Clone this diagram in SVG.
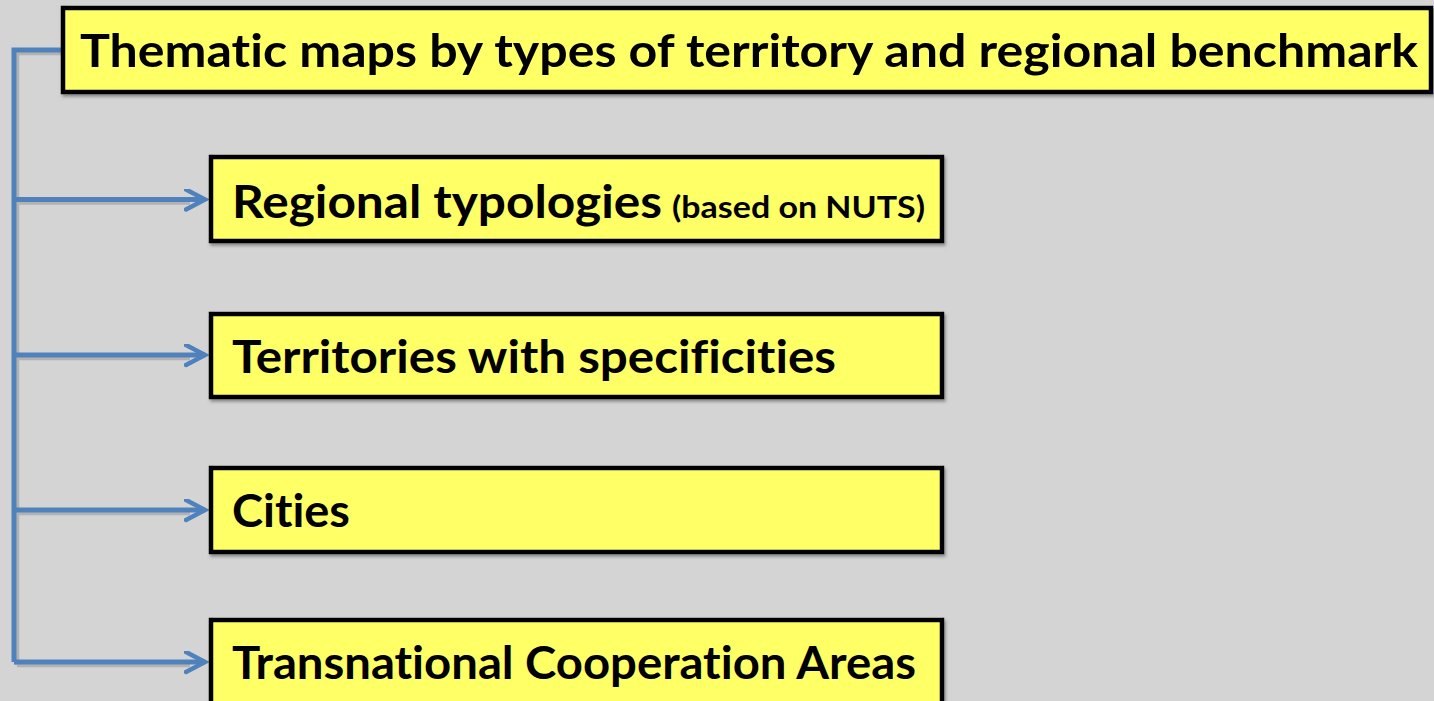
<svg xmlns="http://www.w3.org/2000/svg" width="1434" height="701" viewBox="0 0 1434 701">
<defs>
<style>
.box{fill:#ffff66;stroke:#000;stroke-width:4.5}
.t{font-family:Lato,"Liberation Sans",sans-serif;font-weight:bold;fill:#000;font-variant-ligatures:none;font-feature-settings:"liga" 0}
.c{fill:none;stroke:#4f81bd;stroke-width:5;stroke-linejoin:miter;stroke-linecap:butt}
.s{fill:none;stroke:#a9a9a9;stroke-width:4.5;opacity:0.8}
</style>
<filter id="sh" x="-5%" y="-10%" width="110%" height="130%">
<feDropShadow dx="1.5" dy="2.5" stdDeviation="1.5" flood-color="#555" flood-opacity="0.6"/>
</filter>
<marker id="ar" markerWidth="30" markerHeight="30" refX="21" refY="11" orient="auto" markerUnits="userSpaceOnUse">
<path d="M2,1 L21,11 L2,21" fill="none" stroke="#4f81bd" stroke-width="4.5" stroke-linecap="round" stroke-linejoin="miter"/>
</marker>
</defs>
<rect width="1434" height="701" fill="#d4d4d4"/>
<g id="connectors">
<path class="s" d="M61,53 H17 V665 M17,202.5 H190 M17,358 H190 M17,513 H190 M17,665 H190"/>
<path class="c" d="M61,50 H14 V662"/>
<path class="c" d="M14,199.5 H205" marker-end="url(#ar)"/>
<path class="c" d="M14,355 H205" marker-end="url(#ar)"/>
<path class="c" d="M14,510 H205" marker-end="url(#ar)"/>
<path class="c" d="M14,662 H205" marker-end="url(#ar)"/>
</g>
<g id="title">
<rect class="box" x="63" y="8" width="1368" height="84" filter="url(#sh)"/>
<text class="t" x="80" y="67" font-size="46" textLength="1338" lengthAdjust="spacingAndGlyphs">Thematic maps by types of territory and regional benchmark</text>
</g>
<g id="regional">
<rect class="box" x="211" y="157" width="731" height="84" filter="url(#sh)"/>
<text class="t" y="218"><tspan x="232" font-size="46" textLength="430" lengthAdjust="spacingAndGlyphs">Regional typologies</tspan><tspan x="672" font-size="30" textLength="253" lengthAdjust="spacingAndGlyphs">(based on NUTS)</tspan></text>
</g>
<g id="territories">
<rect class="box" x="211" y="314" width="731" height="83" filter="url(#sh)"/>
<text class="t" x="232" y="373" font-size="46" textLength="604" lengthAdjust="spacingAndGlyphs">Territories with specificities</text>
</g>
<g id="cities">
<rect class="box" x="211" y="468" width="731" height="84" filter="url(#sh)"/>
<text class="t" x="232" y="527" font-size="46" textLength="118" lengthAdjust="spacingAndGlyphs">Cities</text>
</g>
<g id="transnational">
<rect class="box" x="211" y="620" width="731" height="90" filter="url(#sh)"/>
<text class="t" x="232" y="679" font-size="46" textLength="684" lengthAdjust="spacingAndGlyphs">Transnational Cooperation Areas</text>
</g>
</svg>
